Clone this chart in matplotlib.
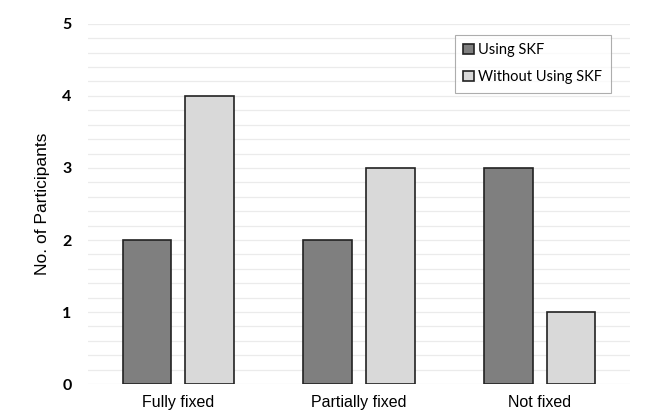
import numpy as np
import matplotlib
matplotlib.use('Agg')
from matplotlib import pyplot as plt

# Data
categories = ['Fully fixed', 'Partially fixed', 'Not fixed']
using_skf = [2, 2, 3]
without_skf = [4, 3, 1]
series_names = ['Using SKF', 'Without Using SKF']

fig = plt.figure(figsize=(6.48, 4.18), dpi=100)
ax = fig.add_axes([0.136, 0.081, 0.836, 0.862])

x = np.arange(len(categories))
w = 0.27
off = 0.174
ax.bar(x - off, using_skf, w, color='#7f7f7f', edgecolor='#222222', linewidth=1.2,
       label=series_names[0], zorder=3)
ax.bar(x + off, without_skf, w, color='#d9d9d9', edgecolor='#222222', linewidth=1.2,
       label=series_names[1], zorder=3)

ax.set_xlim(-0.5, 2.5)
ax.set_ylim(0, 5)
ax.set_yticks(range(6))
ax.set_yticks(np.arange(0, 5, 0.2), minor=True)
ax.grid(axis='y', which='both', color='#ebebeb', linewidth=0.9, zorder=0)
ax.tick_params(axis='y', which='both', length=0, pad=12)
ax.tick_params(axis='x', length=0, pad=8)
for s in ax.spines.values():
    s.set_visible(False)

ax.set_xticks(x)
ax.set_xticklabels(categories, fontsize=11.5, family='Liberation Sans')
for lab in ax.get_yticklabels():
    lab.set_fontfamily('Lato')
    lab.set_fontsize(11.5)
    lab.set_fontweight('bold')
ax.set_ylabel('No. of Participants', fontsize=12.5, family='Liberation Sans', labelpad=9)

leg = ax.legend(loc='upper right', bbox_to_anchor=(0.978, 0.99), frameon=True,
                fancybox=False, edgecolor='#999999', handlelength=0.7,
                handleheight=0.7, handletextpad=0.3, labelspacing=0.85,
                borderpad=0.6, prop={'family': 'Lato', 'size': 10.5})
leg.get_frame().set_linewidth(0.8)

plt.savefig('out.png', dpi=100)
